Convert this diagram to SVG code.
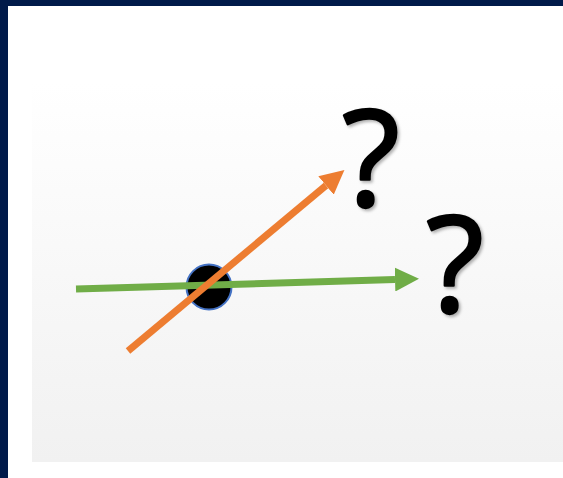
<svg xmlns="http://www.w3.org/2000/svg" width="563" height="478" viewBox="0 0 563 478">
<defs>
<linearGradient id="bg" x1="0" y1="0" x2="0" y2="1">
<stop offset="0" stop-color="#ffffff"/>
<stop offset="1" stop-color="#f1f1f1"/>
</linearGradient>
<filter id="sh" x="-20%" y="-20%" width="150%" height="150%">
<feDropShadow dx="2" dy="2" stdDeviation="1.5" flood-color="#000" flood-opacity="0.3"/>
</filter>
<marker id="ao" viewBox="0 0 24 24" refX="0" refY="12" markerWidth="24" markerHeight="24" markerUnits="userSpaceOnUse" orient="auto">
<path d="M0,0 L24,12 L0,24 Z" fill="#ed7d31"/>
</marker>
<marker id="ag" viewBox="0 0 24 24" refX="0" refY="12" markerWidth="24" markerHeight="24" markerUnits="userSpaceOnUse" orient="auto">
<path d="M0,0 L24,12 L0,24 Z" fill="#70ad47"/>
</marker>
</defs>
<style>
.q{font-family:"Open Sans","Noto Sans",sans-serif;font-size:134px;fill:#000;stroke:#000;stroke-width:2.5;stroke-linejoin:round;text-anchor:middle;filter:url(#sh)}
.ln{stroke-width:7;fill:none}
</style>
<rect x="0" y="0" width="563" height="478" fill="#ffffff"/>
<rect x="0" y="0" width="563" height="6" fill="#001a4a"/>
<rect x="0" y="0" width="8" height="478" fill="#001a4a"/>
<rect x="32" y="83" width="531" height="379" fill="url(#bg)"/>
<g id="point">
<circle cx="209" cy="287" r="22.5" fill="#000" stroke="#4472c4" stroke-width="2"/>
</g>
<g id="connectors">
<line class="ln" x1="76" y1="289" x2="395" y2="279.5" stroke="#70ad47" marker-end="url(#ag)"/>
<line class="ln" x1="128" y1="351" x2="326" y2="185.5" stroke="#ed7d31" marker-end="url(#ao)"/>
</g>
<g id="q1"><text class="q" x="371" y="206">?</text></g>
<g id="q2"><text class="q" x="455" y="312">?</text></g>
</svg>
